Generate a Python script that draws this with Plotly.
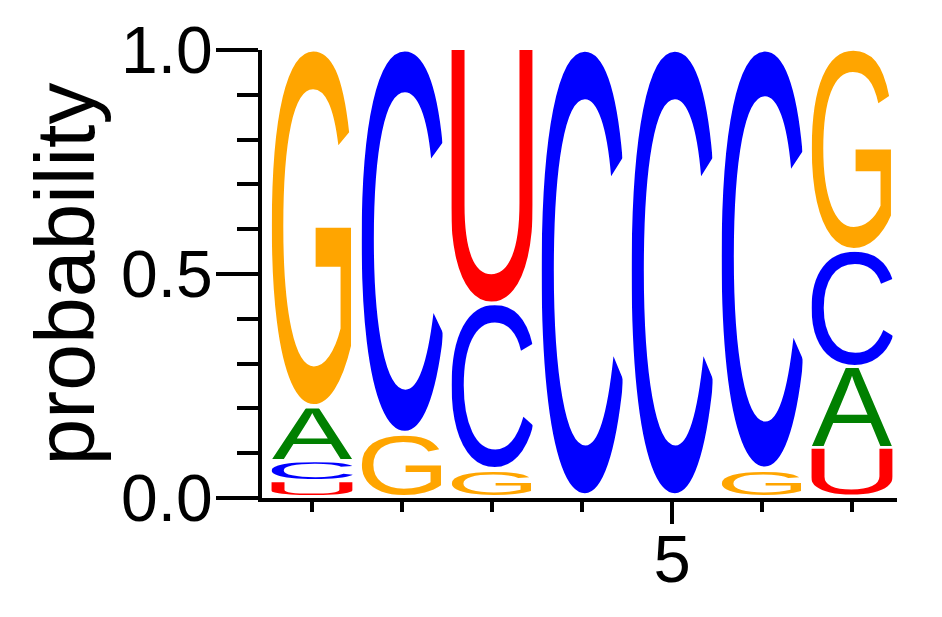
import base64

import plotly.graph_objects as go

# ── Letter probabilities per position ───────────────────

positions = [1, 2, 3, 4, 5, 6, 7]
prob_A = [0.12, 0.00, 0.00, 0.00, 0.00, 0.00, 0.18]
prob_C = [0.045, 0.86, 0.37, 1.00, 1.00, 0.94, 0.26]
prob_G = [0.80, 0.14, 0.06, 0.00, 0.00, 0.06, 0.45]
prob_U = [0.035, 0.00, 0.57, 0.00, 0.00, 0.00, 0.11]

y_tickvals = [0.0, 0.5, 1.0]
y_ticktext = ["0.0", "0.5", "1.0"]
x_tickvals = [5]
x_ticktext = ["5"]

# ── Glyph styling ────────────────────────────────────────────────────────────

COLORS = {"A": "#008000", "C": "#0000FF", "G": "#FFA500", "U": "#FF0000"}
FONT = "Liberation Sans, Arial, Helvetica, sans-serif"

# ink box of each glyph at font-size 1000: (xmin, xmax, ymin, ymax), y up
INK = {
    "A": (-3, 670, 0, 688),
    "C": (50, 678, -13, 701),
    "G": (48, 716, -13, 701),
    "U": (80, 643, -13, 688),
}

LETTER_W = 0.9   # width of a letter in x units
PAD = 0.006      # small gap under each letter


def glyph_uri(letter):
    x0, x1, y0, y1 = INK[letter]
    svg = (
        "<svg xmlns='http://www.w3.org/2000/svg' "
        f"viewBox='{x0} {-y1} {x1 - x0} {y1 - y0}' preserveAspectRatio='none'>"
        f"<text x='0' y='0' font-family='{FONT}' font-size='1000' "
        f"fill='{COLORS[letter]}'>{letter}</text></svg>"
    )
    return "data:image/svg+xml;base64," + base64.b64encode(svg.encode()).decode()


letters = {"A": prob_A, "C": prob_C, "G": prob_G, "U": prob_U}

images = []
for i, pos in enumerate(positions):
    # smallest at the bottom, tallest on top
    column = sorted(((letters[k][i], k) for k in letters if letters[k][i] > 0))
    bottom = 0.0
    for p, k in column:
        images.append(dict(
            source=glyph_uri(k),
            xref="x", yref="y",
            x=pos - LETTER_W / 2, y=bottom + p,
            sizex=LETTER_W, sizey=p - PAD,
            xanchor="left", yanchor="top",
            sizing="stretch", layer="above",
        ))
        bottom += p

# ── Figure ───────────────────────────────────────────────────────────────────

fig = go.Figure(go.Scatter(x=positions, y=[0] * len(positions), mode="markers",
                           marker=dict(opacity=0), hoverinfo="skip",
                           showlegend=False))

# the page body has an 8px margin, so the plot area is shifted up/left by 8
fig.update_layout(
    images=images,
    width=942,
    height=617,
    margin=dict(l=254, r=53, t=42, b=127),
    paper_bgcolor="white",
    plot_bgcolor="white",
    font=dict(family=FONT, color="black"),
    xaxis=dict(
        range=[0.444, 7.5],
        automargin=False,
        showgrid=False, zeroline=False,
        showline=True, linewidth=4, linecolor="black",
        ticks="outside", ticklen=22, tickwidth=4, tickcolor="black",
        tickmode="array", tickvals=x_tickvals, ticktext=x_ticktext,
        tickfont=dict(size=67), ticklabelstandoff=-22,
        minor=dict(ticks="outside", ticklen=10, tickwidth=4, tickcolor="black",
                   tickmode="array", tickvals=[1, 2, 3, 4, 6, 7]),
    ),
    yaxis=dict(
        range=[0, 1],
        automargin=False,
        showgrid=False, zeroline=False,
        showline=True, linewidth=4, linecolor="black",
        ticks="outside", ticklen=42, tickwidth=4, tickcolor="black",
        tickmode="array", tickvals=y_tickvals, ticktext=y_ticktext,
        tickfont=dict(size=66), ticklabelstandoff=-10,
        minor=dict(ticks="outside", ticklen=21, tickwidth=4, tickcolor="black",
                   dtick=0.1, tick0=0),
        title=dict(text="probability", font=dict(size=84), standoff=0),
    ),
)

fig.write_html("out.html")
